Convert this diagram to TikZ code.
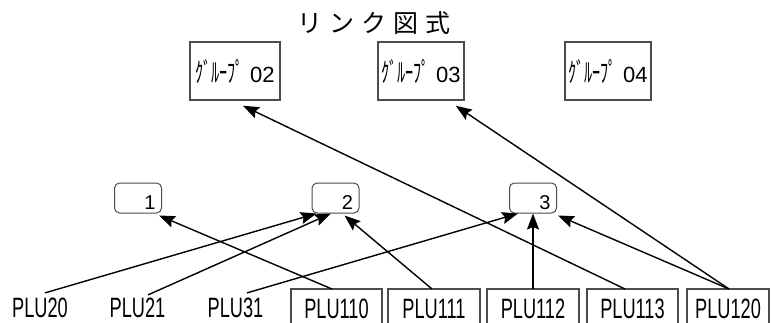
\documentclass[tikz,border=0pt]{standalone}
\usepackage{fontspec}
\usepackage{graphicx}
\setmainfont{Liberation Sans}
\newfontfamily\jp{Noto Sans CJK JP}
\usetikzlibrary{arrows.meta}
\tikzset{
  gbox/.style={draw=black!70, line width=1.5pt, minimum height=58pt, inner sep=0pt,
    font=\fontsize{22}{22}\selectfont},
  sbox/.style={draw=black!70, line width=1pt, rounded corners=5pt, minimum height=30pt,
    inner xsep=6pt, inner ysep=2pt, align=right, text height=22pt, text depth=0pt,
    font=\fontsize{20}{20}\selectfont},
  pbox/.style={minimum height=30pt, inner sep=0pt, outer sep=0pt, text height=28pt,
    text depth=0pt, anchor=north, font=\fontsize{28}{28}\selectfont},
  boxline/.style={draw=black!70, line width=1.5pt},
  plabel/.style={inner sep=0pt, font=\fontsize{28}{28}\selectfont},
  link/.style={line width=1.4pt, -{Stealth[length=16pt,width=12pt,inset=2.5pt]}},
}
\newcommand{\narrow}[1]{\scalebox{0.65}[1]{#1}}
\newcommand{\grp}[1]{{\jp\fontsize{27}{27}\selectfont\scalebox{0.6}[1]{ｸﾞﾙｰﾌﾟ}}\hspace{6pt}#1}
\begin{document}
\begin{tikzpicture}[x=1pt,y=-1pt]
\useasboundingbox (0,0) rectangle (771,322);
\fill[white] (0,0) rectangle (771,322);
\clip (0,0) rectangle (771,322);

\node[inner sep=0pt, font=\jp\fontsize{25}{25}\selectfont] (title) at (374,23)
  {リ\hspace{7pt}ン\hspace{7pt}ク\hspace{7pt}図\hspace{7pt}式};

\node[gbox, minimum width=90pt] (g02) at (235,71) {\grp{02}};
\node[gbox, minimum width=86pt] (g03) at (421,71) {\grp{03}};
\node[gbox, minimum width=86pt] (g04) at (608,71) {\grp{04}};

\node[sbox, text width=35pt] (b1) at (138,198) {1};
\node[sbox, text width=35pt] (b2) at (335.5,198) {2};
\node[sbox, text width=35pt] (b3) at (533,198) {3};

\node[plabel] (l20) at (40,308) {\narrow{PLU20}};
\node[plabel] (l21) at (137.5,308) {\narrow{PLU21}};
\node[plabel] (l31) at (235.5,308) {\narrow{PLU31}};
\node[pbox, minimum width=91pt] (p110) at (336.5,289) {\narrow{PLU110}};
\node[pbox, minimum width=92pt] (p111) at (434,289) {\narrow{PLU111}};
\node[pbox, minimum width=92pt] (p112) at (533,289) {\narrow{PLU112}};
\node[pbox, minimum width=91pt] (p113) at (632.5,289) {\narrow{PLU113}};
\node[pbox, minimum width=82pt] (p120) at (728,289) {\narrow{PLU120}};
\foreach \b in {p110,p111,p112,p113,p120}
  \draw[boxline] ([yshift=-6pt]\b.south west) |- (\b.north east) -- ([yshift=-6pt]\b.south east);

\draw[link] ([shift={(5,-5)}]l20.north) -- ([xshift=5pt]b2.south west);
\draw[link] ([shift={(10.5,-3)}]l21.north) -- ([xshift=-4.5pt]b2.south);
\draw[link] ([shift={(11.5,-5)}]l31.north) -- ([xshift=9pt]b3.south west);
\draw[link] ([xshift=-4.5pt]p110.north) -- ([shift={(-3,2)}]b1.south east);
\draw[link] ([xshift=-2pt]p111.north) -- ([shift={(-15,2)}]b2.south east);
\draw[link] (p112.north) -- (b3.south);
\draw[link] ([xshift=-7.5pt]p113.north) -- ([shift={(8,5)}]g02.south);
\draw[link] ([xshift=1pt]p120.north) -- ([shift={(-9,5)}]g03.south east);
\draw[link] ([xshift=1pt]p120.north) -- ([shift={(1,2)}]b3.south east);
\end{tikzpicture}
\end{document}
